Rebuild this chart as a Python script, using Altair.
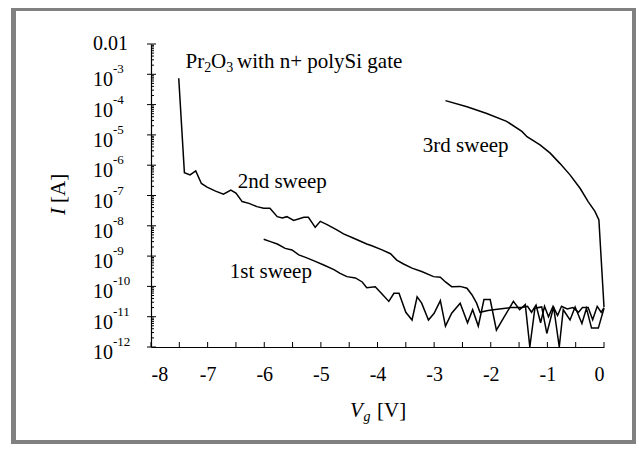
import altair as alt
import pandas as pd

# ---------------- data ----------------
v_1st = [-6.01, -5.89, -5.77, -5.63, -5.51, -5.39, -5.27, -5.13, -4.95, -4.77, -4.66, -4.54,
         -4.39, -4.27, -4.19, -4.04, -3.92, -3.80, -3.71, -3.62, -3.50, -3.39, -3.30, -3.22,
         -3.10, -3.00, -2.89, -2.80, -2.69, -2.54, -2.41, -2.32, -2.22, -2.12, -2.01, -1.90,
         -1.76, -1.60, -1.49, -1.39, -1.31, -1.22, -1.10, -1.01, -0.89, -0.79, -0.72, -0.60,
         -0.51, -0.39, -0.31, -0.22, -0.10, 0.00]
i_1st = [3.6e-9, 3.0e-9, 2.5e-9, 1.8e-9, 1.6e-9, 1.1e-9, 9.1e-10, 7.1e-10, 5.1e-10, 3.6e-10, 2.7e-10, 2.1e-10,
         1.9e-10, 1.4e-10, 9.1e-11, 9.8e-11, 5.6e-11, 3.2e-11, 5.9e-11, 5.9e-11, 1.4e-11, 7.8e-12, 4.5e-11, 2.8e-11,
         7.8e-12, 1.3e-11, 3.4e-11, 4.9e-12, 1.3e-11, 2.8e-11, 6.3e-12, 1.7e-11, 4.9e-12, 3.7e-11, 3.7e-11, 3.6e-12,
         1.0e-11, 3.2e-11, 1.7e-11, 2.5e-11, 1.0e-12, 1.9e-11, 2.1e-11, 2.8e-12, 2.1e-11, 1.0e-12, 1.7e-11, 7.8e-12,
         2.1e-11, 6.0e-12, 1.9e-11, 4.2e-12, 4.2e-12, 1.9e-11]

v_2nd = [-7.51, -7.41, -7.31, -7.21, -7.11, -7.01, -6.86, -6.72, -6.59, -6.50, -6.39, -6.27, -6.13,
         -6.01, -5.90, -5.77, -5.68, -5.60, -5.48, -5.30, -5.22, -5.10, -5.01, -4.89, -4.71, -4.60,
         -4.42, -4.19, -4.10, -3.92, -3.77, -3.66, -3.54, -3.39, -3.22, -3.01, -2.89, -2.80, -2.69,
         -2.54, -2.42, -2.33, -2.25, -2.19, -2.05, -1.85, -1.65, -1.45, -1.35, -1.28, -1.20, -1.12,
         -1.05, -0.98, -0.90, -0.82, -0.75, -0.65, -0.55, -0.45, -0.38, -0.28, -0.20, -0.12, -0.05, 0.00]
i_2nd = [7.4e-4, 5.6e-7, 4.8e-7, 6.5e-7, 2.5e-7, 1.9e-7, 1.4e-7, 1.1e-7, 1.5e-7, 1.2e-7, 6.3e-8, 5.5e-8, 4.3e-8,
         3.8e-8, 3.8e-8, 2.0e-8, 1.8e-8, 2.0e-8, 1.5e-8, 1.9e-8, 1.9e-8, 8.9e-9, 1.4e-8, 1.1e-8, 7.2e-9, 5.4e-9,
         3.9e-9, 2.5e-9, 2.2e-9, 1.6e-9, 1.2e-9, 7.4e-10, 5.5e-10, 4.0e-10, 3.1e-10, 2.1e-10, 2.0e-10, 1.4e-10, 9.8e-11,
         1.0e-10, 8.7e-11, 5.2e-11, 2.8e-11, 1.4e-11, 1.6e-11, 1.8e-11, 2.0e-11, 2.0e-11, 2.2e-11, 1.4e-11, 2.4e-11, 6.3e-12,
         2.2e-11, 1.0e-11, 2.2e-11, 1.1e-11, 2.2e-11, 1.8e-11, 2.0e-11, 1.4e-11, 2.0e-11, 2.0e-11, 7.9e-12, 2.2e-11, 1.4e-11, 2.0e-11]

v_3rd = [-2.80, -2.42, -2.07, -1.72, -1.45, -1.36, -1.13, -0.95, -0.78, -0.60, -0.42, -0.28, -0.16, -0.09, 0.00]
i_3rd = [1.35e-4, 8.5e-5, 5.1e-5, 2.8e-5, 1.3e-5, 8.7e-6, 4.7e-6, 2.5e-6, 1.15e-6, 4.8e-7, 1.7e-7, 6.3e-8, 3.0e-8,
         1.55e-8, 2.1e-11]

x_ticks = [-8, -7, -6, -5, -4, -3, -2, -1, 0]
x_minor = [-7.5, -6.5, -5.5, -4.5, -3.5, -2.5, -1.5, -0.5]
y_exponents = [-3, -4, -5, -6, -7, -8, -9, -10, -11, -12]
y_top_label = "0.01"

# ---------------- build ----------------
rows = []
for name, vs, cs in [("1st", v_1st, i_1st), ("2nd", v_2nd, i_2nd), ("3rd", v_3rd, i_3rd)]:
    for k, (v, c) in enumerate(zip(vs, cs)):
        rows.append({"sweep": name, "V": v, "I": c, "k": k})
df = pd.DataFrame(rows)

W, H = 453, 303
FONT = "Liberation Serif"
FS = 20
FA = 21
xs = alt.Scale(domain=[-8, 0], nice=False, zero=False)
ys = alt.Scale(type="log", domain=[1e-12, 1e-2], nice=False)

XAX = alt.Axis(values=x_ticks, labelExpr="'' + datum.value", ticks=False,
               domainColor="black", domainWidth=1.2, labelFont=FONT,
               labelFontSize=FS, labelColor="black", labelPadding=17,
               title=None, grid=False)
YAX = alt.Axis(labels=False, ticks=False, domainColor="black",
               domainWidth=1.2, title=None, grid=False)


def X(field="V:Q"):
    return alt.X(field, scale=xs, axis=XAX)


def Y(field="I:Q"):
    return alt.Y(field, scale=ys, axis=YAX)


lines = alt.Chart(df).mark_line(color="black", strokeWidth=1.5).encode(
    x=X(), y=Y(), detail="sweep:N", order="k:Q")

# x ticks (inward)
xt_df = pd.DataFrame({"V": x_ticks + x_minor})
xticks = alt.Chart(xt_df).mark_rule(color="black", strokeWidth=1).encode(
    x=X(), y=alt.value(H), y2=alt.value(H - 5))

# y ticks
maj_vals = [10.0 ** e for e in range(-12, -1)]
min_vals = [m * 10.0 ** e for e in range(-12, -2) for m in range(2, 10)]
ymaj = alt.Chart(pd.DataFrame({"I": maj_vals})).mark_rule(color="black", strokeWidth=1).encode(
    y=Y(), x=alt.value(-4), x2=alt.value(5))
ymin = alt.Chart(pd.DataFrame({"I": min_vals})).mark_rule(color="black", strokeWidth=1).encode(
    y=Y(), x=alt.value(0), x2=alt.value(3))

# y tick labels
lab_df = pd.DataFrame({"I": [10.0 ** e for e in y_exponents],
                       "base": ["10"] * len(y_exponents),
                       "exp": [str(e) for e in y_exponents]})
ylab_base = alt.Chart(lab_df).mark_text(font=FONT, fontSize=FS, align="left", baseline="middle",
                                        dy=6, color="black").encode(
    y=Y(), x=alt.value(-58), text="base:N")
ylab_exp = alt.Chart(lab_df).mark_text(font=FONT, fontSize=13, align="left", baseline="middle",
                                       dy=-5, color="black").encode(
    y=Y(), x=alt.value(-38), text="exp:N")
ylab_top = alt.Chart(pd.DataFrame({"I": [1e-2], "t": [y_top_label]})).mark_text(
    font=FONT, fontSize=FS, align="left", baseline="middle", color="black").encode(
    y=Y(), x=alt.value(-58), text="t:N")


def txt(label, v, i, dx=0, dy=0, size=FA, style="normal"):
    return alt.Chart(pd.DataFrame({"t": [label], "V": [v], "I": [i]})).mark_text(
        font=FONT, fontSize=size, fontStyle=style, align="left", baseline="alphabetic",
        dx=dx, dy=dy, color="black").encode(x=X(), y=Y(), text="t:N")


ann_v = -7.39
ann_i = 1.62e-3
annotations = [
    txt("Pr", ann_v, ann_i, 0),
    txt("2", ann_v, ann_i, 18.7, 4, 14),
    txt("O", ann_v, ann_i, 25.5),
    txt("3", ann_v, ann_i, 40.7, 4, 14),
    txt("with n+ polySi gate", ann_v, ann_i, 51.5),
    txt("2nd sweep", -6.47, 1.78e-7),
    txt("1st sweep", -6.61, 1.86e-10),
    txt("3rd sweep", -3.20, 2.8e-6),
]


def ptxt(label, x, y, size=FA, style="normal", angle=0, baseline="alphabetic"):
    return alt.Chart(pd.DataFrame({"t": [label]})).mark_text(
        font=FONT, fontSize=size, fontStyle=style, align="left", baseline=baseline,
        angle=angle, color="black").encode(x=alt.value(x), y=alt.value(y), text="t:N")


titles = [
    ptxt("V", 199, 373, style="italic"),
    ptxt("g", 212.5, 377, size=14, style="italic"),
    ptxt("[V]", 226, 373),
    ptxt("I", -92, 171, style="italic", angle=270, baseline="middle"),
    ptxt("[A]", -92, 159, angle=270, baseline="middle"),
]

frame = alt.Chart(pd.DataFrame({"a": [0]})).mark_rect(
    fillOpacity=0, stroke="#808080", strokeWidth=5).encode(
    x=alt.value(-137.5), x2=alt.value(483.5), y=alt.value(-35.5), y2=alt.value(398.5))

chart = alt.layer(lines, xticks, ymaj, ymin, ylab_base, ylab_exp, ylab_top,
                  *annotations, *titles, frame).properties(
    width=W, height=H,
    padding={"left": 143, "top": 36, "right": 32, "bottom": 97},
    autosize=alt.AutoSizeParams(type="none"),
    background="white",
).configure_view(stroke=None)

chart.save("out.html", embed_options={"renderer": "svg", "actions": False})
